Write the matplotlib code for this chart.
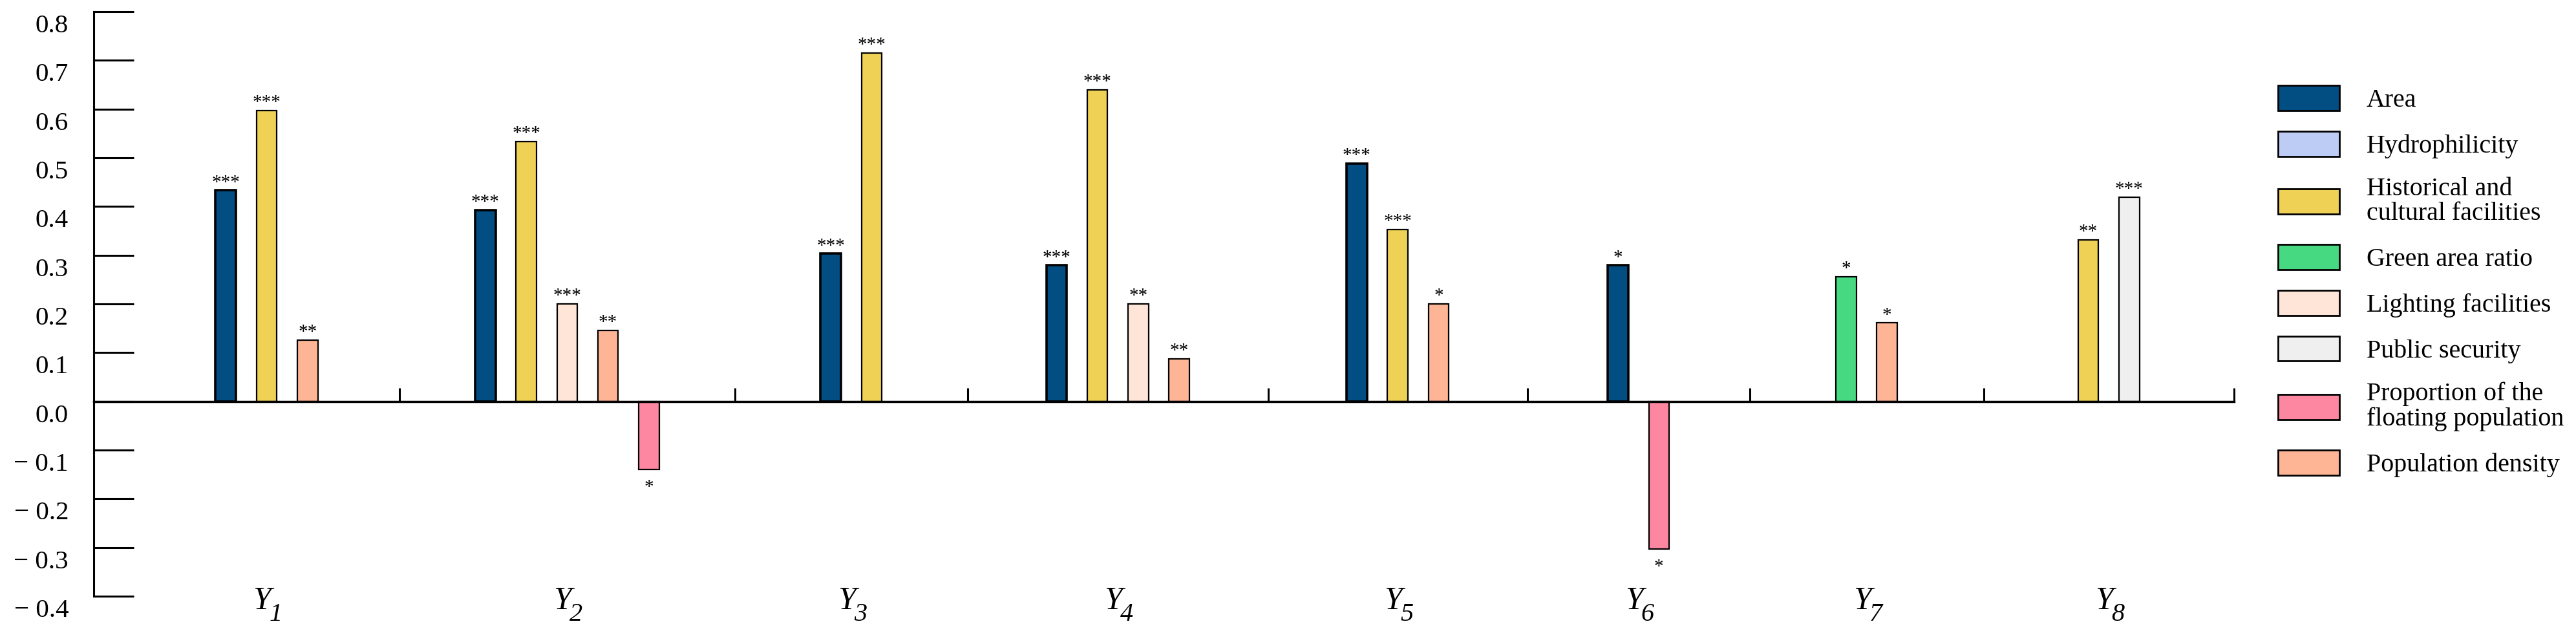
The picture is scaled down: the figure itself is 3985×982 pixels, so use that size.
import numpy as np
import matplotlib
matplotlib.use("Agg")
import matplotlib.pyplot as plt
import matplotlib.transforms as mtransforms
from matplotlib.patches import Patch
from matplotlib.ticker import FixedLocator, FuncFormatter

plt.rcParams["font.family"] = ["Liberation Serif", "DejaVu Serif"]

# --- data -------------------------------------------------------------
group_names = ["Y", "Y", "Y", "Y", "Y", "Y", "Y", "Y"]
group_subs = ["1", "2", "3", "4", "5", "6", "7", "8"]
categories = ["Area", "Hydrophilicity", "Historical and\ncultural facilities",
              "Green area ratio", "Lighting facilities", "Public security",
              "Proportion of the\nfloating population", "Population density"]

nan = np.nan
area = [0.433, 0.393, 0.303, 0.279, 0.488, 0.279, nan, nan]
hydrophilicity = [nan] * 8
historical = [0.597, 0.533, 0.715, 0.640, 0.353, nan, nan, 0.331]
green_ratio = [nan, nan, nan, nan, nan, nan, 0.256, nan]
lighting = [nan, 0.200, nan, 0.200, nan, nan, nan, nan]
public_security = [nan, nan, nan, nan, nan, nan, nan, 0.419]
floating_pop = [nan, -0.140, nan, nan, nan, -0.303, nan, nan]
pop_density = [0.126, 0.146, nan, 0.087, 0.200, nan, 0.161, nan]

area_sig = ["***", "***", "***", "***", "***", "*", "", ""]
hydrophilicity_sig = [""] * 8
historical_sig = ["***", "***", "***", "***", "***", "", "", "**"]
green_ratio_sig = ["", "", "", "", "", "", "*", ""]
lighting_sig = ["", "***", "", "**", "", "", "", ""]
public_security_sig = ["", "", "", "", "", "", "", "***"]
floating_pop_sig = ["", "*", "", "", "", "*", "", ""]
pop_density_sig = ["**", "**", "", "**", "*", "", "*", ""]

series = [area, hydrophilicity, historical, green_ratio, lighting,
          public_security, floating_pop, pop_density]
signif = [area_sig, hydrophilicity_sig, historical_sig, green_ratio_sig,
          lighting_sig, public_security_sig, floating_pop_sig, pop_density_sig]

# --- style / layout ---------------------------------------------------
colors = ["#024e82", "#bdccf4", "#eed155", "#47d982", "#fee5d8",
          "#efefef", "#fd86a0", "#fdb595"]
edge_widths = [2.6, 1.6, 1.6, 1.6, 1.6, 1.6, 1.6, 1.6]
draw_order = [0, 1, 2, 3, 4, 5, 7, 6]  # floating population drawn last
group_edges = [0.98, 7.47, 15.67, 21.36, 28.70, 35.04, 40.47, 46.19, 52.31]
bar_step = 1.0
bar_width = 0.5

fig = plt.figure(figsize=(39.85, 9.82), dpi=100)
ax = fig.add_axes([145 / 3985, 60 / 982, 3311 / 3985, 904 / 982])

for g in range(len(group_names)):
    present = [c for c in draw_order if not np.isnan(series[c][g])]
    center = (group_edges[g] + group_edges[g + 1]) / 2
    for k, c in enumerate(present):
        x = center + (k - (len(present) - 1) / 2) * bar_step
        v = series[c][g]
        ax.bar(x, v, width=bar_width, color=colors[c], edgecolor="black",
               linewidth=edge_widths[c], zorder=3)
        if signif[c][g]:
            dy = 3.5 if v >= 0 else -25
            ax.annotate(signif[c][g], (x, v), xytext=(0, dy),
                        textcoords="offset points", ha="center",
                        va="baseline", fontsize=21)
    # group label: italic Y with a large italic subscript
    ax.annotate(group_names[g], (center, 0), xycoords=("data", "axes fraction"),
                xytext=(-5, -14.5), textcoords="offset points", ha="center",
                va="baseline", fontsize=36, style="italic",
                annotation_clip=False)
    ax.annotate(group_subs[g], (center, 0), xycoords=("data", "axes fraction"),
                xytext=(10, -27.5), textcoords="offset points", ha="center",
                va="baseline", fontsize=29, style="italic",
                annotation_clip=False)

ax.set_xlim(0, group_edges[-1])
ax.set_ylim(-0.4, 0.8)

for side in ["top", "right"]:
    ax.spines[side].set_visible(False)
ax.spines["left"].set_linewidth(2.2)
ax.spines["bottom"].set_position(("data", 0))
ax.spines["bottom"].set_linewidth(2.5)
ax.spines["bottom"].set_zorder(4)

ax.xaxis.set_major_locator(FixedLocator(group_edges[1:]))
ax.tick_params(axis="x", direction="in", length=15, width=2.2,
               labelbottom=False)


def fmt_y(v, _):
    v = round(v, 1)
    if v < 0:
        return f"\u2212 {abs(v):.1f}"
    return f"{abs(v):.1f}"


ax.yaxis.set_major_locator(FixedLocator(np.round(np.arange(-0.4, 0.81, 0.1), 1)))
ax.yaxis.set_major_formatter(FuncFormatter(fmt_y))
ax.tick_params(axis="y", direction="in", length=44.6, width=2.2,
               labelsize=29.5, pad=28)
shift = mtransforms.ScaledTranslation(0, -13 / 72, fig.dpi_scale_trans)
for lab in ax.get_yticklabels():
    lab.set_transform(lab.get_transform() + shift)

handles = [Patch(facecolor=colors[i], edgecolor="black", linewidth=2.0,
                 label=categories[i]) for i in range(len(categories))]
leg = fig.legend(handles=handles, loc="upper left",
                 bbox_to_anchor=(3524 / 3985, 1 - 132 / 982), frameon=False,
                 fontsize=28.8, handlelength=2.37, handleheight=1.12,
                 handletextpad=1.05, labelspacing=0.72, borderpad=0,
                 borderaxespad=0)
for t in leg.get_texts():
    t.set_linespacing(1.05)

fig.savefig("out.png", dpi=100)
